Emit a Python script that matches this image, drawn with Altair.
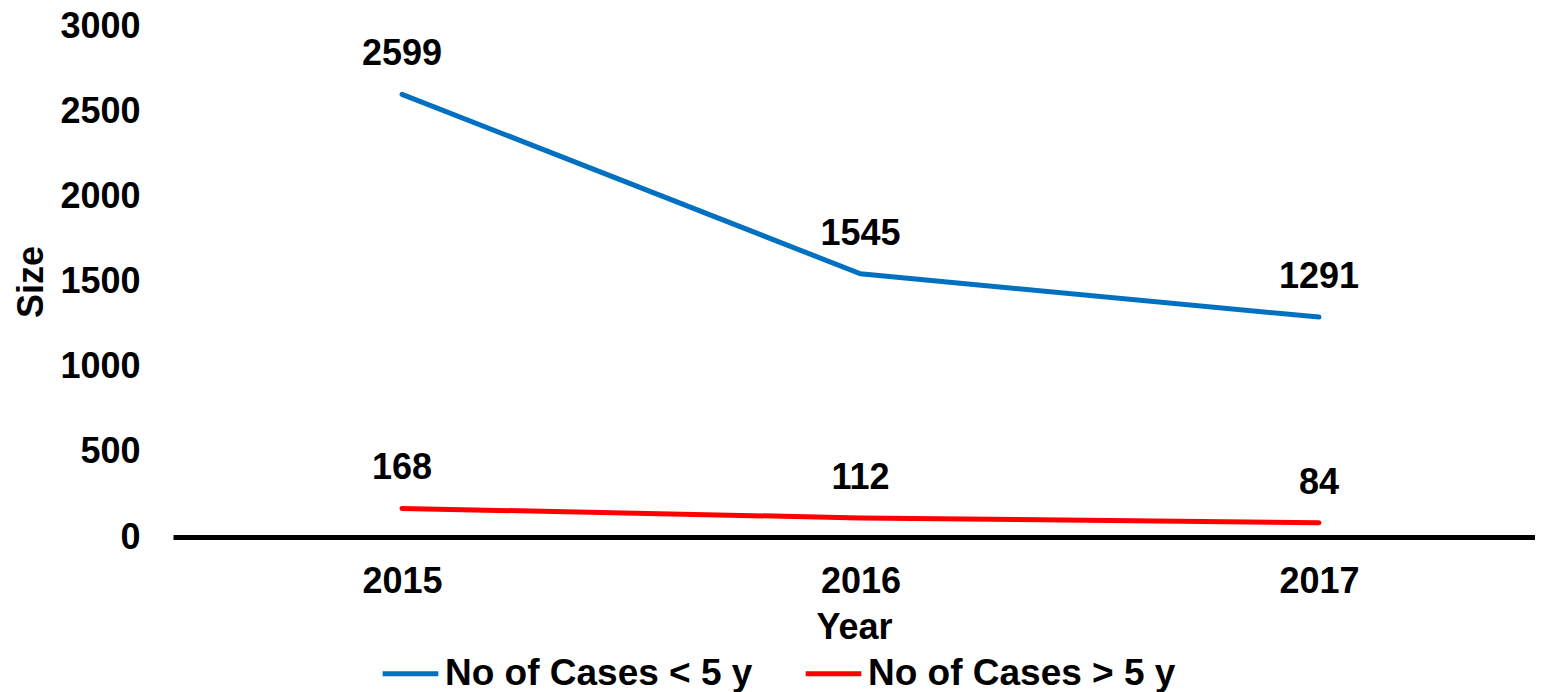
import altair as alt
import pandas as pd

years = ["2015", "2016", "2017"]
under5 = [2599, 1545, 1291]
over5 = [168, 112, 84]
series_names = ["No of Cases < 5 y", "No of Cases > 5 y"]
colors = ["#0070C0", "#FF0000"]
y_ticks = [0, 500, 1000, 1500, 2000, 2500, 3000]

rows = []
for y, v in zip(years, under5):
    rows.append({"Year": y, "Size": v, "Series": series_names[0]})
for y, v in zip(years, over5):
    rows.append({"Year": y, "Size": v, "Series": series_names[1]})
df = pd.DataFrame(rows)

FONT = "Liberation Sans"
FS = 36

x = alt.X("Year:O", title="Year",
          scale=alt.Scale(type="point", padding=0.4853, align=0.5146),
          axis=alt.Axis(labelAngle=0, ticks=False, domain=True, domainColor="#000000",
                        domainWidth=5, labelPadding=27, titlePadding=11,
                        labelFont=FONT, labelFontSize=FS, labelFontWeight="bold",
                        labelColor="#000000", titleFont=FONT, titleFontSize=FS,
                        titleFontWeight="bold", titleColor="#000000"))
y = alt.Y("Size:Q", title="Size",
          scale=alt.Scale(domain=[0, 3000]),
          axis=alt.Axis(values=y_ticks, format="d", grid=False,
                        ticks=False, domain=False, labelPadding=33, titlePadding=9,
                        labelFont=FONT, labelFontSize=FS, labelFontWeight="bold",
                        labelColor="#000000", titleFont=FONT, titleFontSize=FS,
                        titleFontWeight="bold", titleColor="#000000"))
color = alt.Color("Series:N", title=None,
                  scale=alt.Scale(domain=series_names, range=colors),
                  legend=alt.Legend(orient="none", direction="horizontal",
                                    legendX=207, legendY=617, padding=0,
                                    symbolType="stroke", symbolSize=3100,
                                    symbolStrokeWidth=5, labelFont=FONT, labelFontSize=37,
                                    labelFontWeight="bold", labelColor="#000000",
                                    labelOffset=4, columnPadding=42, labelLimit=600))

base = alt.Chart(df)
lines = base.mark_line(strokeWidth=5, strokeCap="round").encode(x=x, y=y, color=color)
labels = base.mark_text(dy=-40, font=FONT, fontSize=FS, fontWeight="bold",
                        color="#000000", baseline="middle").encode(
    x=alt.X("Year:O"), y=alt.Y("Size:Q"), text=alt.Text("Size:Q"))

chart = alt.layer(lines, labels).properties(
    width=1362, height=511,
    autosize=alt.AutoSizeParams(type="none"),
    padding={"left": 165, "top": 18, "right": 0, "bottom": 155},
).configure_view(stroke=None)

chart.save("out.html", embed_options={"renderer": "svg", "actions": False})
